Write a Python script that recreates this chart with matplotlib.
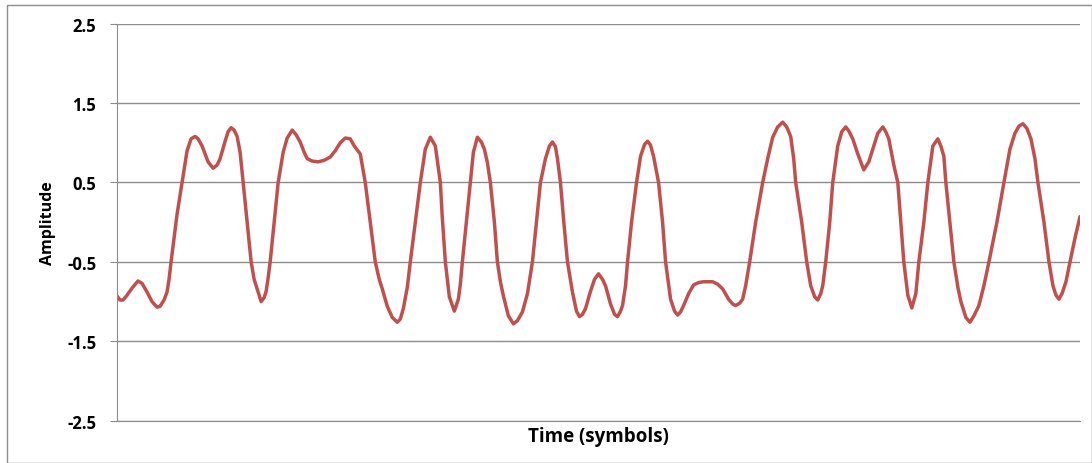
import matplotlib
matplotlib.use("Agg")
import matplotlib.pyplot as plt
from matplotlib.patches import Rectangle

# sample index along the time axis (no tick labels in the original)
sample = [0, 3, 6, 10, 15, 21, 25, 30, 35, 40, 43, 47, 50, 52, 54, 57, 60, 65, 70, 74,
          78, 81, 85, 91, 96, 100, 103, 108, 111, 114, 117, 120, 123, 126, 130, 134, 137,
          140, 144, 147, 149, 151, 153, 157, 161, 166, 170, 175, 179, 183, 187, 190, 195,
          201, 207, 213, 218, 223, 228, 233, 237, 243, 248, 253, 258, 262, 265, 270, 275,
          280, 283, 286, 290, 293, 298, 303, 308, 313, 318, 320, 323, 325, 328, 332, 337,
          341, 343, 345, 349, 353, 356, 360, 364, 367, 370, 373, 377, 380, 383, 386, 391,
          396, 400, 405, 410, 415, 419, 423, 428, 432, 435, 438, 440, 443, 446, 450, 455,
          459, 462, 465, 468, 473, 477, 481, 485, 488, 493, 497, 500, 503, 505, 508, 510,
          514, 519, 523, 527, 530, 533, 536, 541, 545, 548, 553, 557, 560, 563, 566, 571,
          576, 581, 586, 591, 595, 600, 605, 611, 615, 618, 622, 625, 628, 632, 638, 645,
          650, 655, 660, 665, 669, 673, 676, 678, 684, 689, 693, 697, 700, 703, 705, 708,
          712, 715, 720, 724, 728, 731, 735, 740, 746, 751, 756, 760, 765, 768, 771, 776,
          780, 783, 786, 790, 794, 798, 801, 806, 810, 815, 820, 823, 826, 828, 832, 836,
          840, 843, 848, 852, 856, 861, 866, 871, 879, 886, 892, 897, 901, 905, 909, 913,
          917, 920, 926, 931, 935, 938, 941, 944, 948, 952, 957, 962]
amplitude = [-0.93, -0.98, -0.98, -0.92, -0.83, -0.74, -0.77, -0.88, -1.00, -1.07, -1.06,
             -0.98, -0.88, -0.72, -0.50, -0.20, 0.10, 0.50, 0.90, 1.05, 1.08, 1.05, 0.96,
             0.76, 0.68, 0.72, 0.80, 1.02, 1.14, 1.19, 1.16, 1.08, 0.88, 0.50, 0.00, -0.50,
             -0.72, -0.84, -1.00, -0.95, -0.87, -0.70, -0.50, 0.00, 0.50, 0.88, 1.06, 1.16,
             1.10, 1.01, 0.88, 0.80, 0.77, 0.76, 0.78, 0.82, 0.90, 1.00, 1.06, 1.05, 0.96,
             0.86, 0.50, 0.00, -0.50, -0.72, -0.84, -1.06, -1.20, -1.26, -1.22, -1.09,
             -0.82, -0.50, 0.00, 0.50, 0.92, 1.07, 0.96, 0.78, 0.50, 0.05, -0.50, -0.94,
             -1.12, -0.97, -0.78, -0.50, 0.00, 0.50, 0.88, 1.07, 1.01, 0.92, 0.75, 0.50,
             0.00, -0.50, -0.75, -0.93, -1.18, -1.28, -1.24, -1.13, -0.90, -0.50, 0.00,
             0.50, 0.80, 0.96, 1.01, 0.95, 0.80, 0.50, 0.05, -0.50, -0.88, -1.12, -1.19,
             -1.16, -1.09, -0.87, -0.72, -0.65, -0.72, -0.80, -1.03, -1.16, -1.19, -1.12,
             -1.05, -0.80, -0.50, 0.00, 0.50, 0.83, 0.98, 1.02, 0.97, 0.83, 0.50, 0.00,
             -0.50, -0.97, -1.12, -1.17, -1.13, -1.05, -0.90, -0.79, -0.76, -0.75, -0.75,
             -0.75, -0.78, -0.84, -0.97, -1.03, -1.05, -1.02, -0.97, -0.80, -0.50, 0.00,
             0.50, 0.80, 1.07, 1.20, 1.26, 1.20, 1.08, 0.80, 0.50, 0.00, -0.50, -0.80,
             -0.94, -0.98, -0.90, -0.80, -0.50, 0.00, 0.50, 0.96, 1.14, 1.20, 1.15, 1.05,
             0.86, 0.66, 0.76, 0.96, 1.12, 1.20, 1.14, 1.05, 0.72, 0.50, 0.00, -0.50, -0.92,
             -1.08, -0.90, -0.50, 0.00, 0.50, 0.96, 1.05, 0.96, 0.83, 0.50, 0.00, -0.50,
             -0.82, -1.00, -1.20, -1.26, -1.18, -1.05, -0.80, -0.50, 0.00, 0.50, 0.92, 1.12,
             1.21, 1.24, 1.18, 1.05, 0.80, 0.50, 0.00, -0.50, -0.80, -0.92, -0.97, -0.90,
             -0.75, -0.50, -0.20, 0.07]
yticks = [-2.5, -1.5, -0.5, 0.5, 1.5, 2.5]
ytick_labels = ["-2.5", "-1.5", "-0.5", "0.5", "1.5", "2.5"]

plt.rcParams['font.family'] = ['Open Sans', 'DejaVu Sans']

fig = plt.figure(figsize=(10.92, 4.64), dpi=100)
fig.patch.set_facecolor('white')
fig.patches.append(Rectangle((7/1092, 0.0), (1092-7)/1092, 1 - 6/464,
                             transform=fig.transFigure, fill=False,
                             edgecolor='#8c8c8c', linewidth=1.0))

ax = fig.add_axes([117/1092, 1 - 421.7/464, (1080 - 117)/1092, (421.7 - 24.7)/464])
ax.plot(sample, amplitude, color='#C0504D', linewidth=2.5, solid_joinstyle='round',
        solid_capstyle='round', antialiased=True)

ax.set_xlim(0, 962)
ax.set_ylim(-2.5, 2.5)
ax.set_yticks(yticks)
ax.set_yticklabels(ytick_labels, fontsize=12, fontweight='bold')
ax.set_xticks([])
ax.yaxis.grid(True, color='#8c8c8c', linewidth=1.0)
ax.set_axisbelow(True)
for s in ['top', 'right']:
    ax.spines[s].set_visible(False)
ax.spines['left'].set_color('#8c8c8c')
ax.spines['bottom'].set_color('#8c8c8c')
ax.tick_params(axis='y', length=5, color='#8c8c8c', pad=10)
ax.set_ylabel('Amplitude', fontsize=11.5, fontweight='bold', labelpad=8)
ax.set_xlabel('Time (symbols)', fontsize=13.5, fontweight='bold', labelpad=4)

fig.savefig('out.png', dpi=100, facecolor='white')
